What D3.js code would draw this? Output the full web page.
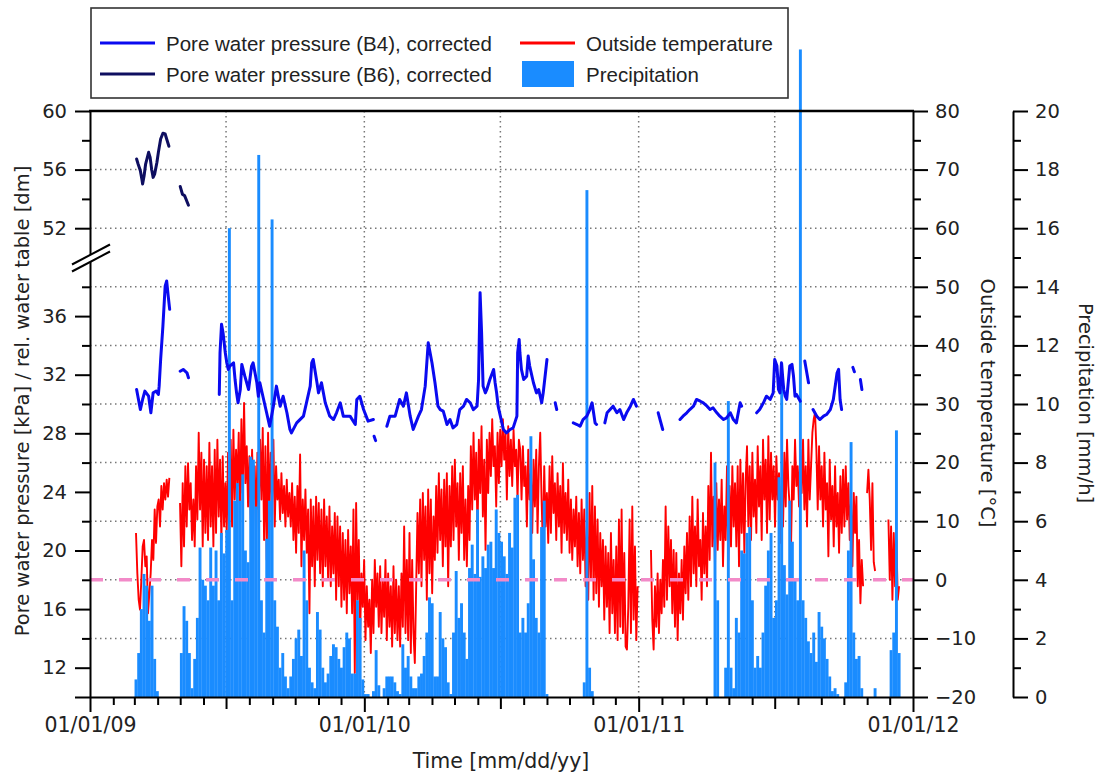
<!DOCTYPE html>
<html><head><meta charset="utf-8">
<script src="https://cdn.jsdelivr.net/npm/d3@7"></script>
<style>
html,body{margin:0;padding:0;background:#fff;}
svg{display:block;}
</style></head><body>
<svg id="chart" width="1102" height="775"></svg>
<script>
// ---------------- DATA ----------------
// Pore water pressure B6 [days since 2009-01-01, kPa]; null = gap
const b6Series = [
 [62,56.72],[64,56.38],[67,55.92],[69,55.35],[70,55.01],[72,55.58],[74,56.38],[78,57.18],[80,56.83],[82,56.03],
 [84,55.47],[86,55.69],[89,56.49],[91,57.18],[94,58.09],[97,58.48],[100,58.43],[102,58.09],[105,57.59],null,
 [120,54.85],[123,54.32],[126,54.21],[131,53.57]
];
// Pore water pressure B4 [days since 2009-01-01, kPa]; null = gap
const b4Series = [
 [62,30.99],[67,29.62],[70,30.31],[73,30.88],[78,30.53],[81,29.4],[84,30.77],[88,30.88],[91,30.65],[92,31.22],
 [94,33.04],[97,35.32],[100,38.05],[102,38.4],[104,37.4],[106,36.46],null,
 [120,32.24],[124,32.36],[129,32.13],[131,31.79],null,
 [172,30.65],[173,33.5],[175,35.44],[177,34.87],[180,33.5],[182,32.81],[184,32.36],[186,32.59],[191,32.81],[193,31.67],
 [195,30.76],[197,30.08],[200,30.99],[202,32.7],[206,31.9],[211,30.99],[215,32.59],[217,32.81],[222,31.45],[224,30.53],
 [226,31.45],[231,30.31],[235,29.4],[239,28.48],[244,29.85],[248,31.22],[253,29.85],[257,30.53],[262,29.4],[266,28.26],
 [268,28.03],[275,28.71],[284,29.17],[288,30.08],[293,31.22],[295,32.81],[297,33.04],[302,31.45],[304,30.76],[308,31.45],
 [313,30.08],[319,29.17],[324,28.94],[328,29.4],[333,30.08],[337,29.17],[346,29.17],[353,28.6],[355,30.31],[359,30.53],
 [364,29.62],[370,28.83],[377,28.94],null,
 [378,27.8],[380,27.5],null,
 [395,28.48],[399,29.17],[406,29.17],[412,30.31],[417,29.85],[421,30.76],[426,29.17],[430,28.26],[437,29.17],[441,29.62],
 [446,31.22],[450,34.18],[455,32.81],[459,31.45],[463,29.85],[466,29.62],[470,29.51],[475,28.6],[479,28.94],[483,28.37],
 [488,28.6],[492,29.62],[497,29.85],[501,30.31],[506,30.08],[510,29.62],[515,29.85],[517,31.67],[519,37.6],[521,34.87],
 [523,31.22],[526,30.76],[528,30.99],[532,31.67],[537,32.36],[539,31.45],[541,30.76],[543,29.85],[546,29.17],[550,28.26],
 [554,28.03],[559,28.26],[563,28.37],[568,29.17],[569,33.5],[571,34.41],[572,33.5],[574,32.36],[577,31.67],[581,31.9],
 [583,33.27],[585,32.59],[590,31.45],[594,30.76],[597,30.99],[601,30.08],[603,30.76],[608,33.04],null,
 [619,30.08],[621,29.62],null,
 [643,28.71],[648,28.6],[652,28.48],[656,28.94],[661,29.17],[665,29.62],[668,30.08],[670,29.4],[672,28.71],[674,28.6],null,
 [685,28.71],[688,29.4],[692,29.62],[696,29.85],[701,29.4],[705,29.62],[710,28.94],[714,29.4],[719,29.85],[723,30.31],[727,29.85],null,
 [756,29.4],[762,28.26],null,
 [785,28.94],[789,29.17],[794,29.4],[798,29.62],[803,29.85],[807,30.31],[812,30.19],[816,30.08],[821,29.85],[825,29.62],
 [829,29.74],[834,29.4],[838,29.17],[843,28.94],[847,29.05],[852,29.4],[856,28.94],[860,28.71],[865,30.08],[867,29.85],null,
 [887,29.4],[891,29.62],[896,30.08],[900,30.53],[905,30.31],[909,30.76],[911,33.04],[914,32.59],[916,30.99],[918,30.76],
 [920,32.81],[923,30.99],[925,30.53],[927,30.31],[931,32.59],[934,32.7],[936,31.9],[938,30.53],[940,30.65],[945,30.19],null,
 [951,32.93],[956,31.45],null,
 [962,29.62],[967,29.17],[971,28.94],[976,29.17],[980,29.28],[985,29.62],[989,30.31],[994,32.13],[996,32.36],[998,30.31],[1000,29.62],null,
 [1015,32.5],[1017,32.2],null,
 [1025,31.67],[1027,30.99]
];

// Outside temperature [°C], regular sampling; null = no data
const tempStart = "2009-03-03T05:00:00Z";
const tempStepHours = 42.6;
const tempValues = [
 8.0,1.1,-3.4,-5.1,0.0,5.7,6.8,2.3,4.0,-5.7,
 -2.3,1.1,6.8,3.4,12.0,6.3,12.5,13.7,9.1,16.0,
 12.0,16.5,13.7,17.1,14.2,17.4,null,null,null,null,
 null,null,null,13.1,2.3,16.5,5.7,19.4,9.1,19.9,
 12.0,16.5,6.8,13.7,5.7,19.4,10.3,25.1,12.0,21.7,
 5.7,20.5,8.0,19.4,6.8,23.4,9.1,19.4,5.7,22.2,
 8.0,23.9,10.8,20.5,6.8,21.1,9.1,16.5,8.0,21.7,
 13.7,23.9,9.1,25.6,13.7,22.2,16.0,25.1,10.8,27.4,
 14.8,30.2,16.5,22.8,12.5,21.1,10.3,22.2,13.7,19.4,
 8.0,21.7,12.0,23.9,13.7,25.9,6.8,22.8,3.4,25.1,
 10.8,21.7,13.7,23.9,9.1,19.4,13.7,17.1,10.3,18.2,
 11.4,16.0,9.1,17.1,10.8,14.8,9.1,16.5,6.8,14.2,
 4.6,16.0,8.0,21.4,2.3,13.7,6.8,15.4,4.6,12.0,
 -5.7,13.7,2.3,12.5,-1.1,14.2,3.4,13.1,1.1,12.0,
 -1.1,13.7,2.3,10.8,0.0,12.5,-1.1,9.1,1.1,11.4,
 -3.4,10.8,-1.1,9.1,-4.6,8.0,-3.4,6.8,-5.7,8.5,
 -2.3,5.7,-5.7,12.0,-15.9,13.1,-3.4,6.8,-9.1,1.1,
 -4.6,3.4,-10.3,-1.1,-8.0,-3.4,-12.5,0.0,-9.1,3.4,
 -4.6,1.1,-8.0,2.3,-9.1,0.0,-6.3,3.4,-10.3,1.1,
 -8.0,-1.1,-11.4,2.3,-9.1,0.0,-10.3,-1.1,-11.4,1.1,
 -8.0,9.1,-9.1,3.4,-10.3,8.0,-12.5,3.4,-9.1,-14.2,
 -1.1,11.4,1.1,13.7,-1.1,14.8,3.4,12.5,-3.4,15.4,
 1.1,13.7,-2.3,10.8,3.4,16.0,4.6,18.2,6.8,15.4,
 2.3,17.1,5.7,18.2,-1.1,16.0,5.7,19.4,6.8,20.5,
 9.1,16.5,3.4,18.2,8.0,19.4,3.4,13.7,2.3,16.0,
 6.8,22.8,12.0,25.1,13.7,21.7,8.0,23.9,14.8,26.2,
 10.8,20.5,5.1,23.9,14.8,25.1,17.7,27.4,19.4,22.8,
 12.5,25.1,16.5,25.6,19.4,27.4,20.5,25.1,13.7,26.2,
 17.7,23.9,16.0,25.6,19.4,22.2,13.7,23.9,22.2,13.7,
 22.8,16.0,19.4,9.1,22.2,13.7,18.2,8.0,20.5,12.5,
 22.2,8.0,19.4,25.1,13.7,5.7,19.4,9.1,14.8,6.3,
 19.4,8.0,21.1,11.4,16.5,6.8,18.2,9.1,16.0,4.6,
 19.9,8.0,14.8,6.8,17.1,4.6,13.7,3.4,12.0,5.7,
 14.2,2.3,11.4,1.1,13.7,3.4,12.0,-1.1,9.1,-3.4,
 14.8,0.0,16.0,-3.4,12.5,-2.3,10.3,-4.6,8.0,-1.1,
 6.8,-6.8,5.7,-4.6,4.6,-9.1,8.0,-5.7,3.4,-9.1,
 5.7,-10.3,10.3,-8.0,12.0,-9.1,4.6,-11.4,-11.9,-4.6,
 10.3,-9.1,12.5,-6.8,5.7,-10.3,-1.1,null,null,null,
 null,null,null,null,null,null,5.1,-6.8,-11.9,-1.1,
 -8.0,1.1,-9.1,0.0,-5.7,3.4,-4.6,12.5,-3.4,9.1,
 -1.1,6.8,-5.7,5.1,-8.0,4.6,-10.3,1.1,-5.7,3.4,
 -6.8,5.7,-2.3,8.0,-3.4,10.8,-1.1,14.2,1.1,9.1,
 -1.1,13.7,2.3,6.8,-3.4,11.4,1.1,9.1,-1.1,16.0,
 3.4,21.7,5.7,14.2,2.3,16.5,5.1,13.7,6.8,17.1,
 2.3,12.5,6.8,19.4,3.4,16.0,5.7,19.4,9.1,16.5,
 5.7,19.4,2.3,20.5,8.0,18.2,4.6,17.1,22.8,9.1,
 19.4,6.8,21.7,10.8,17.1,8.0,22.8,12.5,19.4,6.8,
 23.9,13.7,20.5,8.0,24.5,10.3,21.7,13.7,19.4,9.1,
 21.1,13.7,18.2,6.3,16.0,9.1,21.7,12.5,23.9,16.0,
 12.5,5.7,19.4,13.7,23.9,16.0,19.4,12.5,22.2,14.8,
 23.9,12.0,19.4,9.1,23.9,13.7,19.4,25.1,27.4,28.5,
 22.2,12.0,22.8,13.7,19.4,9.1,21.7,12.0,16.5,4.0,
 20.5,10.3,16.0,5.7,19.4,9.1,14.8,4.6,17.7,8.0,
 18.8,9.1,19.4,10.3,16.5,6.8,13.7,2.3,14.8,8.0,
 14.2,-1.1,6.8,-4.0,3.4,-1.1,null,null,14.8,18.8,
 13.7,5.1,16.5,3.0,1.5,null,null,null,null,null,
 null,null,null,null,10.3,0.0,9.1,-3.4,8.0,-1.1,
 6.8,-3.4,-1.1
];

// Precipitation [mm/h], regular sampling
const precipStart = "2009-03-03T05:00:00Z";
const precipStepHours = 85.2;
const precipValues = [
 0.6,1.5,3.0,4.2,3.8,2.6,3.8,1.3,0.2,0,
 0,0,0,0,0,0,0,1.5,3.1,2.6,
 1.5,0.3,1.3,2.7,5.1,4.0,3.8,3.3,5.1,3.8,
 5.0,3.3,5.6,4.9,5.7,16.0,3.3,6.7,7.3,6.7,
 7.6,5.0,4.6,8.2,8.1,6.5,18.5,3.3,2.2,5.4,
 6.7,16.3,3.3,2.4,1.0,1.5,0.7,0.3,0.7,1.3,
 2.0,2.3,1.4,5.0,3.3,1.0,0.5,0.3,2.9,2.3,
 1.0,0.5,0.8,1.4,1.8,1.7,1.3,1.0,1.7,2.2,
 2.0,0.8,0.8,3.3,2.7,0.6,0.1,0.1,0,0.2,
 1.6,0.4,0,0.3,0.7,0.7,0.7,0.5,0.2,0.1,
 1.8,1.0,1.4,0.7,0.3,0.3,0.7,0.8,1.4,2.2,
 3.4,3.2,0.7,0.7,2.9,2.0,1.7,0.5,0.1,2.2,
 4.3,2.7,3.2,2.2,1.3,4.4,5.2,4.2,6.4,4.1,
 4.8,4.4,5.2,5.3,4.4,6.4,5.6,5.3,4.8,4.2,
 5.6,5.1,6.8,6.9,2.2,2.7,2.2,3.2,8.9,4.7,
 2.7,2.2,5.8,6.7,0.1,0,0,0,0,0,
 0,0,0,0,0,0,0,0,0.5,17.3,
 1.0,0.2,0,0,0,0,0,0,0,0,
 0,0,0,0,0,0,0,0,0,0,
 0,0,0,0,0,0,0,0,0,0,
 0,0,0,0,0,0,0,0,0,0,
 0,0,0,0,0,0,0,8.0,3.3,0,
 0,1.0,10.1,1.0,0.3,2.7,2.2,5.0,4.9,5.6,
 5.8,3.3,1.0,1.4,1.0,2.2,3.8,5.0,5.6,2.7,
 3.3,7.5,11.4,4.5,3.5,6.7,5.3,4.0,3.3,22.1,
 3.3,2.7,1.9,1.5,2.2,1.2,2.9,2.4,2.0,1.3,
 0.7,0.2,0.3,0.1,0,0,0.5,5.0,8.7,2.2,
 1.3,1.4,0.3,0,0,0,0,0.3,0,0,
 0,0,0,1.6,2.2,9.1,1.5
];

// Axis ticks / labels
const pressureTicksLower = [12,16,20,24,28,32,36];
const pressureTicksUpper = [52,56,60];
const pressureMinor = [14,18,22,26,30,34,38,54,58];
const tempTicks = [-20,-10,0,10,20,30,40,50,60,70,80];
const precipTicks = [0,2,4,6,8,10,12,14,16,18,20];
const yearTicks = ["2009-01-01","2010-01-01","2011-01-01","2012-01-01"];
const gridDates = ["2009-07-01","2010-01-01","2010-07-01","2011-01-01","2011-07-01"];

const legendItems = [
 {label:"Pore water pressure (B4), corrected", type:"line", color:"#0a0af0", col:0, row:0},
 {label:"Pore water pressure (B6), corrected", type:"line", color:"#0e0e60", col:0, row:1},
 {label:"Outside temperature", type:"line", color:"#ff0000", col:1, row:0},
 {label:"Precipitation", type:"rect", color:"#1a8cff", col:1, row:1}
];

// ---------------- CHART ----------------
const svg = d3.select("#chart");
const L=90, R=913, T=111, B=697;
const FONT = "'DejaVu Sans', sans-serif";
const day0 = Date.UTC(2009,0,1);
const dayDate = d => new Date(day0 + d*864e5);

const x = d3.scaleUtc().domain([new Date(Date.UTC(2009,0,1)), new Date(Date.UTC(2012,0,1))]).range([L,R]);
const u = (B-T)/40;
const yP = d3.scaleLinear().domain([10,40,50,60]).range([B, B-30*u, B-30*u, T]);
const yT = d3.scaleLinear().domain([-20,80]).range([B,T]);
const yR = d3.scaleLinear().domain([0,20]).range([B,T]);

// grid
const grid = svg.append("g");
tempTicks.filter(t => t>-20 && t<80).forEach(t => {
  grid.append("line").attr("x1",L).attr("x2",R).attr("y1",yT(t)).attr("y2",yT(t))
   .attr("stroke","#777").attr("stroke-width",1.5).attr("stroke-dasharray","1.5,3.5");
});
gridDates.forEach(s => {
  const xx = x(new Date(s+"T00:00:00Z"));
  grid.append("line").attr("x1",xx).attr("x2",xx).attr("y1",T).attr("y2",B)
   .attr("stroke","#777").attr("stroke-width",1.5).attr("stroke-dasharray","1.5,3.5");
});

// temperature
const tStart = Date.parse(tempStart), tStep = tempStepHours*3600e3;
const tempData = tempValues.map((v,i) => ({d:new Date(tStart + i*tStep), v}));
svg.append("path").datum(tempData)
  .attr("fill","none").attr("stroke","#ff0000").attr("stroke-width",1.9).attr("stroke-linejoin","round")
  .attr("d", d3.line().defined(p => p.v!==null).x(p => x(p.d)).y(p => yT(p.v)));

// precipitation
const pStart = Date.parse(precipStart), pStep = precipStepHours*3600e3;
const precipData = precipValues.map((v,i) => ({d:new Date(pStart + i*pStep), v})).filter(p => p.v>0);
const bw = x(new Date(pStart + pStep)) - x(new Date(pStart)) + 0.25;
svg.append("g").selectAll("rect").data(precipData).join("rect")
  .attr("x", p => x(p.d)-bw/2).attr("width", bw)
  .attr("y", p => yR(p.v)).attr("height", p => B - yR(p.v))
  .attr("fill","#1a8cff");

// 0 °C reference
svg.append("line").attr("x1",L).attr("x2",R).attr("y1",yT(0)).attr("y2",yT(0))
  .attr("stroke","#f28ac8").attr("stroke-width",3.5).attr("stroke-dasharray","13,16");

// pore pressures
const lineP = d3.line().defined(p => p!==null).x(p => x(dayDate(p[0]))).y(p => yP(p[1]));
svg.append("path").datum(b4Series).attr("fill","none").attr("stroke","#0a0af0")
  .attr("stroke-width",3).attr("stroke-linejoin","round").attr("stroke-linecap","round").attr("d", lineP);
svg.append("path").datum(b6Series).attr("fill","none").attr("stroke","#0e0e60")
  .attr("stroke-width",3).attr("stroke-linejoin","round").attr("stroke-linecap","round").attr("d", lineP);

// axes
function styleAxis(g, size){
  g.selectAll(".domain").attr("stroke","#000").attr("stroke-width",2);
  g.selectAll(".tick line").attr("stroke","#000").attr("stroke-width",2);
  g.selectAll("text").attr("font-family",FONT).attr("font-size",size).attr("fill","#222");
}
// left
const gl = svg.append("g").attr("transform",`translate(${L},0)`)
  .call(d3.axisLeft(yP).tickValues([10,...pressureTicksLower,...pressureTicksUpper]).tickSize(15).tickSizeOuter(0).tickPadding(8)
    .tickFormat(d => d===10 ? "" : d));
styleAxis(gl, "19.5px");
const glm = svg.append("g").attr("transform",`translate(${L},0)`)
  .call(d3.axisLeft(yP).tickValues(pressureMinor).tickSize(8).tickSizeOuter(0).tickFormat(""));
styleAxis(glm, "19px"); glm.select(".domain").remove();

// bottom
const yearDates = yearTicks.map(s => new Date(s+"T00:00:00Z"));
const gb = svg.append("g").attr("transform",`translate(0,${B})`)
  .call(d3.axisBottom(x).tickValues(yearDates).tickSize(15).tickSizeOuter(0).tickPadding(5).tickFormat(d3.utcFormat("%m/%d/%y")));
styleAxis(gb, "20.5px");
const halfDates = gridDates.map(s => new Date(s+"T00:00:00Z")).filter(d => d.getUTCMonth()===6);
const gbh = svg.append("g").attr("transform",`translate(0,${B})`)
  .call(d3.axisBottom(x).tickValues(halfDates).tickSize(12).tickSizeOuter(0).tickFormat(""));
styleAxis(gbh,"19px"); gbh.select(".domain").remove();
const monthDates = d3.utcMonth.range(x.domain()[0], x.domain()[1]).filter(d => d.getUTCMonth()!==0 && d.getUTCMonth()!==6);
const gbm = svg.append("g").attr("transform",`translate(0,${B})`)
  .call(d3.axisBottom(x).tickValues(monthDates).tickSize(8).tickSizeOuter(0).tickFormat(""));
styleAxis(gbm,"19px"); gbm.select(".domain").remove();

// right temperature
const gr = svg.append("g").attr("transform",`translate(${R},0)`)
  .call(d3.axisRight(yT).tickValues(tempTicks).tickSize(15).tickSizeOuter(0).tickPadding(7));
styleAxis(gr,"19.5px");
const grm = svg.append("g").attr("transform",`translate(${R},0)`)
  .call(d3.axisRight(yT).tickValues(tempTicks.slice(1).map(t => t-5)).tickSize(8).tickSizeOuter(0).tickFormat(""));
styleAxis(grm,"19px"); grm.select(".domain").remove();

// precipitation axis
const PX = 1013;
const gp = svg.append("g").attr("transform",`translate(${PX},0)`)
  .call(d3.axisRight(yR).tickValues(precipTicks).tickSize(15).tickSizeOuter(0).tickPadding(7));
styleAxis(gp,"19.5px");
const gpm = svg.append("g").attr("transform",`translate(${PX},0)`)
  .call(d3.axisRight(yR).tickValues(precipTicks.slice(1).map(t => t-1)).tickSize(8).tickSizeOuter(0).tickFormat(""));
styleAxis(gpm,"19px"); gpm.select(".domain").remove();

// top frame line
svg.append("line").attr("x1",L-1).attr("x2",R+1).attr("y1",T).attr("y2",T).attr("stroke","#000").attr("stroke-width",2.5);

// axis break
const yb = yP(40);
svg.append("path").attr("d",`M72,${yb+7} L110,${yb-13} L110,${yb-6} L72,${yb+14} Z`).attr("fill","#fff");
svg.append("line").attr("x1",72).attr("y1",yb+7).attr("x2",110).attr("y2",yb-13).attr("stroke","#000").attr("stroke-width",2);
svg.append("line").attr("x1",72).attr("y1",yb+14).attr("x2",110).attr("y2",yb-6).attr("stroke","#000").attr("stroke-width",2);

// axis titles
svg.append("text").attr("transform","translate(22,401) rotate(-90)")
  .attr("text-anchor","middle").attr("dominant-baseline","central")
  .attr("font-family",FONT).attr("font-size","19.5px").attr("fill","#222")
  .text("Pore water pressure [kPa] / rel. water table [dm]");
svg.append("text").attr("transform","translate(987,403) rotate(90)")
  .attr("text-anchor","middle").attr("dominant-baseline","central")
  .attr("font-family",FONT).attr("font-size","19.5px").attr("fill","#222")
  .text("Outside temperature [°C]");
svg.append("text").attr("transform","translate(1085,403) rotate(90)")
  .attr("text-anchor","middle").attr("dominant-baseline","central")
  .attr("font-family",FONT).attr("font-size","19.5px").attr("fill","#222")
  .text("Precipitation [mm/h]");
svg.append("text").attr("x",501).attr("y",761)
  .attr("text-anchor","middle").attr("dominant-baseline","central")
  .attr("font-family",FONT).attr("font-size","20.5px").attr("fill","#222")
  .text("Time [mm/dd/yy]");

// legend
const lg = svg.append("g");
lg.append("rect").attr("x",91).attr("y",8).attr("width",697).attr("height",90)
  .attr("fill","#fff").attr("stroke","#333").attr("stroke-width",1.6);
const colX = [100, 520], rowY = [43, 74];
legendItems.forEach(it => {
  const x0 = colX[it.col], y0 = rowY[it.row];
  if (it.type==="line") {
    lg.append("line").attr("x1",x0).attr("x2",x0+55).attr("y1",y0).attr("y2",y0)
      .attr("stroke",it.color).attr("stroke-width",3);
  } else {
    lg.append("rect").attr("x",x0+2).attr("y",y0-13).attr("width",52).attr("height",26).attr("fill",it.color);
  }
  lg.append("text").attr("x",x0+66).attr("y",y0).attr("dominant-baseline","central")
    .attr("font-family","'Liberation Sans', Arial, sans-serif").attr("font-size","20.5px").attr("fill","#222")
    .text(it.label);
});
</script>
</body></html>
